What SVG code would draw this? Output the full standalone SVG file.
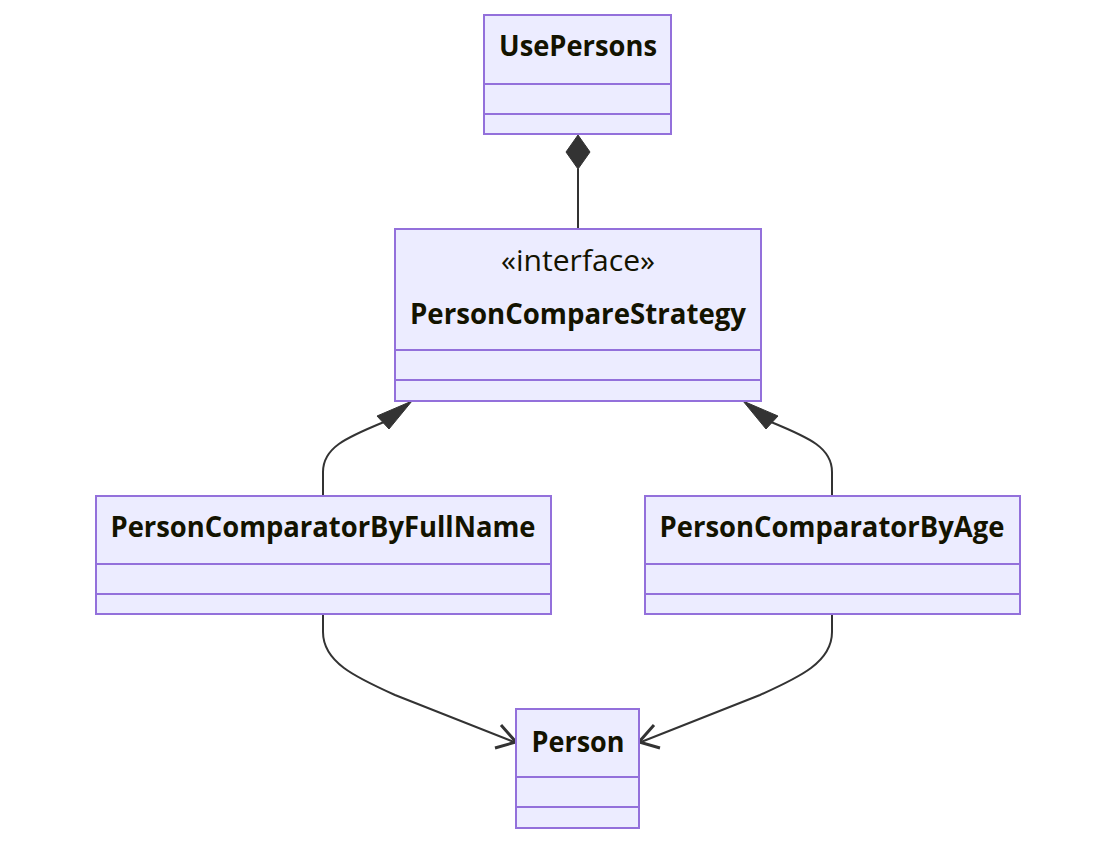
<svg xmlns="http://www.w3.org/2000/svg" width="1116" height="844" viewBox="0 0 1116 844">
<style>
.box{fill:#ECECFF;stroke:#9370DB;stroke-width:2}
.div{stroke:#9370DB;stroke-width:2}
.t{font-family:"Open Sans","DejaVu Sans",sans-serif;font-size:28px;font-weight:bold;fill:#131300;text-anchor:middle}
.s{font-family:"Open Sans","DejaVu Sans",sans-serif;font-size:29px;font-weight:normal;fill:#131300;text-anchor:middle}
.e{fill:none;stroke:#333333;stroke-width:2}
.h{fill:#333333;stroke:#333333;stroke-width:1}
.o{fill:none;stroke:#333333;stroke-width:3;stroke-linejoin:miter}
</style>
<rect width="1116" height="844" fill="#ffffff"/>
<g id="connectors">
<path class="e" d="M578,169 L578,229"/>
<polygon class="h" points="578,135 590,152 578,169 566,152"/>
<path class="e" d="M323,496 L323,472 C323,448 345,438 384,422"/>
<polygon class="h" points="412,401 377,416 389,429"/>
<path class="e" d="M832,496 L832,472 C832,448 810,438 771,422"/>
<polygon class="h" points="743,401 778,416 766,429"/>
<path class="e" d="M323,614 L323,632 C323,662 355,677 395,695 L514,742"/>
<polyline class="o" points="501,725 516,742 495,748"/>
<path class="e" d="M832,614 L832,632 C832,662 800,677 760,695 L641,742"/>
<polyline class="o" points="654,725 639,742 660,748"/>
</g>
<g id="UsePersons">
<rect class="box" x="484" y="15" width="187" height="119"/>
<line class="div" x1="484" y1="84" x2="671" y2="84"/>
<line class="div" x1="484" y1="114" x2="671" y2="114"/>
<text class="t" x="578" y="56" textLength="158" lengthAdjust="spacingAndGlyphs">UsePersons</text>
</g>
<g id="PersonCompareStrategy">
<rect class="box" x="395" y="229" width="366" height="172"/>
<line class="div" x1="395" y1="350" x2="761" y2="350"/>
<line class="div" x1="395" y1="380" x2="761" y2="380"/>
<text class="s" x="578" y="271" textLength="154" lengthAdjust="spacingAndGlyphs">«interface»</text>
<text class="t" x="578" y="324" textLength="336" lengthAdjust="spacingAndGlyphs">PersonCompareStrategy</text>
</g>
<g id="PersonComparatorByFullName">
<rect class="box" x="96" y="496" width="455" height="118"/>
<line class="div" x1="96" y1="564" x2="551" y2="564"/>
<line class="div" x1="96" y1="594" x2="551" y2="594"/>
<text class="t" x="323" y="537" textLength="425" lengthAdjust="spacingAndGlyphs">PersonComparatorByFullName</text>
</g>
<g id="PersonComparatorByAge">
<rect class="box" x="645" y="496" width="375" height="118"/>
<line class="div" x1="645" y1="564" x2="1020" y2="564"/>
<line class="div" x1="645" y1="594" x2="1020" y2="594"/>
<text class="t" x="832" y="537" textLength="345" lengthAdjust="spacingAndGlyphs">PersonComparatorByAge</text>
</g>
<g id="Person">
<rect class="box" x="516" y="709" width="123" height="119"/>
<line class="div" x1="516" y1="777" x2="639" y2="777"/>
<line class="div" x1="516" y1="807" x2="639" y2="807"/>
<text class="t" x="578" y="752" textLength="93" lengthAdjust="spacingAndGlyphs">Person</text>
</g>
</svg>
